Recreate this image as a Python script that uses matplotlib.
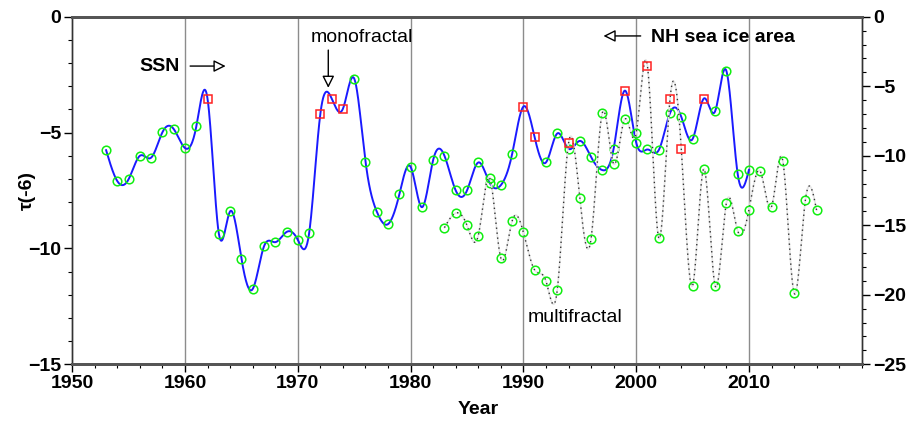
import numpy as np
import matplotlib.pyplot as plt
from matplotlib.ticker import MultipleLocator

plt.rcParams['font.family'] = ['Liberation Sans', 'DejaVu Sans']

# tau(-6) of sunspot number, left axis
ssn_years = np.arange(1953, 2011)
ssn_tau = [-5.76, -7.10, -7.01, -6.00, -6.08, -4.98, -4.85, -5.67, -4.73, -3.56,
           -9.37, -8.40, -10.44, -11.75, -9.91, -9.73, -9.29, -9.63, -9.35, -4.18,
           -3.53, -3.97, -2.67, -6.25, -8.41, -8.95, -7.67, -6.48, -8.22, -6.18,
           -6.00, -7.50, -7.50, -6.29, -7.16, -7.27, -5.93, -3.88, -5.21, -6.29,
           -5.04, -5.70, -5.36, -6.06, -6.62, -5.70, -3.19, -5.43, -5.73, -5.76,
           -4.16, -4.32, -5.28, -3.53, -4.08, -2.34, -6.78, -6.61]
ssn_flagged = [1962, 1972, 1973, 1974, 1990, 1991, 1999, 2006]

# tau(-6) of NH sea ice area, right axis
ice_years = np.arange(1983, 2017)
ice_tau = [-15.17, -14.12, -15.01, -15.74, -11.58, -17.36, -14.70, -15.51, -18.22, -19.01,
           -19.68, -9.11, -13.06, -15.97, -6.91, -10.58, -7.36, -8.35, -3.55, -15.92,
           -5.92, -9.50, -19.35, -10.94, -19.35, -13.40, -15.40, -13.88, -11.12, -13.67,
           -10.36, -19.86, -13.21, -13.93]
ice_flagged = [1994, 2001, 2003, 2004]


def natural_spline(x, y, xs):
    x = np.asarray(x, float)
    y = np.asarray(y, float)
    n = len(x)
    h = np.diff(x)
    A = np.zeros((n, n))
    b = np.zeros(n)
    A[0, 0] = A[-1, -1] = 1
    for i in range(1, n - 1):
        A[i, i - 1] = h[i - 1]
        A[i, i] = 2 * (h[i - 1] + h[i])
        A[i, i + 1] = h[i]
        b[i] = 3 * ((y[i + 1] - y[i]) / h[i] - (y[i] - y[i - 1]) / h[i - 1])
    c = np.linalg.solve(A, b)
    k = np.clip(np.searchsorted(x, xs) - 1, 0, n - 2)
    dx = xs - x[k]
    bk = (y[k + 1] - y[k]) / h[k] - h[k] * (2 * c[k] + c[k + 1]) / 3
    dk = (c[k + 1] - c[k]) / (3 * h[k])
    return y[k] + bk * dx + c[k] * dx ** 2 + dk * dx ** 3


fig = plt.figure(figsize=(9.09, 4.23), dpi=100)
ax = fig.add_axes([0.0795, 0.1388, 0.8685, 0.8217])
ax2 = ax.twinx()

for yr in range(1960, 2011, 10):
    ax.axvline(yr, color='#8c8c8c', lw=1, zorder=0)

green = '#11ee11'
red = '#ff2222'

# SSN: smooth curve + markers
xs = np.linspace(ssn_years[0], ssn_years[-1], 1500)
ax.plot(xs, natural_spline(ssn_years, ssn_tau, xs), color='#1a1aff', lw=1.4, zorder=2)
ssn_tau = np.array(ssn_tau)
flag = np.isin(ssn_years, ssn_flagged)
ax.plot(ssn_years[~flag], ssn_tau[~flag], 'o', mfc='none', mec=green, ms=6.2, mew=1.1, zorder=3)
ax.plot(ssn_years[flag], ssn_tau[flag], 's', mfc='none', mec=red, ms=5.8, mew=1.1, zorder=3)

# sea ice: dotted smooth curve + markers
xi = np.linspace(ice_years[0], ice_years[-1], 1500)
yi = natural_spline(ice_years, ice_tau, xi)
ax2.plot(xi, yi, color='#e6e6e6', lw=1.2, zorder=1)
ax2.plot(xi, yi, color='#333333', lw=1.0, ls=(0, (1, 2.6)), zorder=2)
ice_tau = np.array(ice_tau)
flag = np.isin(ice_years, ice_flagged)
ax2.plot(ice_years[~flag], ice_tau[~flag], 'o', mfc='none', mec=green, ms=6.2, mew=1.1, zorder=3)
ax2.plot(ice_years[flag], ice_tau[flag], 's', mfc='none', mec=red, ms=5.8, mew=1.1, zorder=3)

ax.set_xlim(1950, 2020)
ax.set_ylim(-15, 0)
ax2.set_ylim(-25, 0)

ax.xaxis.set_major_locator(MultipleLocator(10))
ax.xaxis.set_minor_locator(MultipleLocator(2))
ax.yaxis.set_major_locator(MultipleLocator(5))
ax.yaxis.set_minor_locator(MultipleLocator(1))
ax2.yaxis.set_major_locator(MultipleLocator(5))
ax2.yaxis.set_minor_locator(MultipleLocator(1))
ax.set_xticks([1950, 1960, 1970, 1980, 1990, 2000, 2010])

for a in (ax, ax2):
    a.tick_params(which='major', length=6, width=1, labelsize=14, pad=2)
    a.tick_params(which='minor', length=3, width=0.8)
    for lab in a.get_xticklabels() + a.get_yticklabels():
        lab.set_fontweight('bold')
    for s in ('top', 'bottom'):
        a.spines[s].set_color('#555555')
        a.spines[s].set_linewidth(2)
    for s in ('left', 'right'):
        a.spines[s].set_color('#333333')
        a.spines[s].set_linewidth(1)

ax.set_xlabel('Year', fontsize=14, fontweight='bold')
ax.xaxis.set_label_coords(0.514, -0.105)
ax.set_ylabel('τ(-6)', fontsize=14, fontweight='bold')
ax.yaxis.set_label_coords(-0.046, 0.5)

arrow = dict(arrowstyle='-|>', fc='white', ec='black', lw=1, mutation_scale=18, shrinkA=0, shrinkB=0)
ax.text(1959.5, -2.17, 'SSN', ha='right', va='center', fontsize=14, fontweight='bold')
ax.annotate('', xy=(1963.6, -2.13), xytext=(1960.45, -2.13), arrowprops=arrow)
ax.text(1975.7, -0.88, 'monofractal', ha='center', va='center', fontsize=14)
ax.annotate('', xy=(1972.7, -3.07), xytext=(1972.7, -1.44), arrowprops=arrow)
ax.text(2001.3, -0.88, 'NH sea ice area', ha='left', va='center', fontsize=14, fontweight='bold')
ax.annotate('', xy=(1997.1, -0.83), xytext=(2000.4, -0.83), arrowprops=arrow)
ax.text(1994.6, -13.0, 'multifractal', ha='center', va='center', fontsize=14)

fig.savefig('out.png', dpi=100)
